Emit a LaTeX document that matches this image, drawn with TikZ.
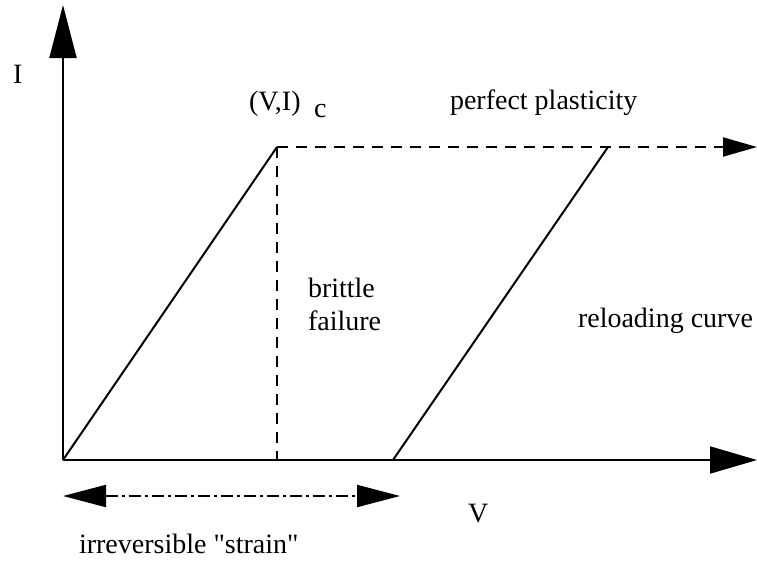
\documentclass[tikz,border=0pt]{standalone}
\usepackage{fontspec}
\setmainfont{Liberation Serif}[Ligatures=TeXOff]
\usetikzlibrary{arrows.meta, positioning}
\tikzset{
  every picture/.style={line width=2pt},
  lbl/.style={font=\fontsize{28}{32}\selectfont, inner sep=0pt, anchor=base west},
  axis/.style={-{Triangle[length=47pt, width=27pt]}},
  yaxis/.style={-{Triangle[length=53pt, width=27pt]}},
  plateau/.style={dash pattern=on 11pt off 8pt, -{Triangle[length=34pt, width=19pt]}},
  drop/.style={dash pattern=on 11pt off 8pt},
  span/.style={dash pattern=on 12pt off 4pt on 3pt off 4pt, {Triangle[length=43pt, width=22pt]}-{Triangle[length=43pt, width=22pt]}},
}

\begin{document}
\begin{tikzpicture}[x=1pt, y=-1pt]
  \useasboundingbox (0,0) rectangle (757,560);
  % axes
  \coordinate (O) at (63,460);
  \coordinate (Itop) at (63,5);
  \coordinate (Vend) at (757,460);
  \draw[yaxis] (O) -- (Itop);
  \draw[axis] (O) -- (Vend);
  % load path
  \coordinate (C) at (277,147);
  \coordinate (Cfoot) at (277,460);
  \coordinate (R) at (393,460);
  \coordinate (Rtop) at (608,147);
  \coordinate (Pend) at (757,147);
  \draw (O) -- (C);
  \draw[drop] (C) -- (Cfoot);
  \draw[plateau] (C) -- (Pend);
  \draw (R) -- (Rtop);
  % irreversible part
  \coordinate (Sa) at (63,496);
  \coordinate (Sb) at (400,496);
  \draw[span] (Sa) -- (Sb);
  % labels
  \node[lbl] (ilab) at (12,83) {I};
  \node[lbl] (vlab) at (467,522) {V};
  \node[lbl] (crit) at (248,110) {(V,I)};
  \node[lbl] (critc) at (313,117) {c};
  \node[lbl] (plast) at (449,109) {perfect plasticity};
  \node[lbl] (brit) at (307,297) {brittle};
  \node[lbl] (fail) at (307,330) {failure};
  \node[lbl] (reload) at (577,327) {reloading curve};
  \node[lbl] (irrev) at (78,553) {irreversible "strain"};
\end{tikzpicture}
\end{document}
